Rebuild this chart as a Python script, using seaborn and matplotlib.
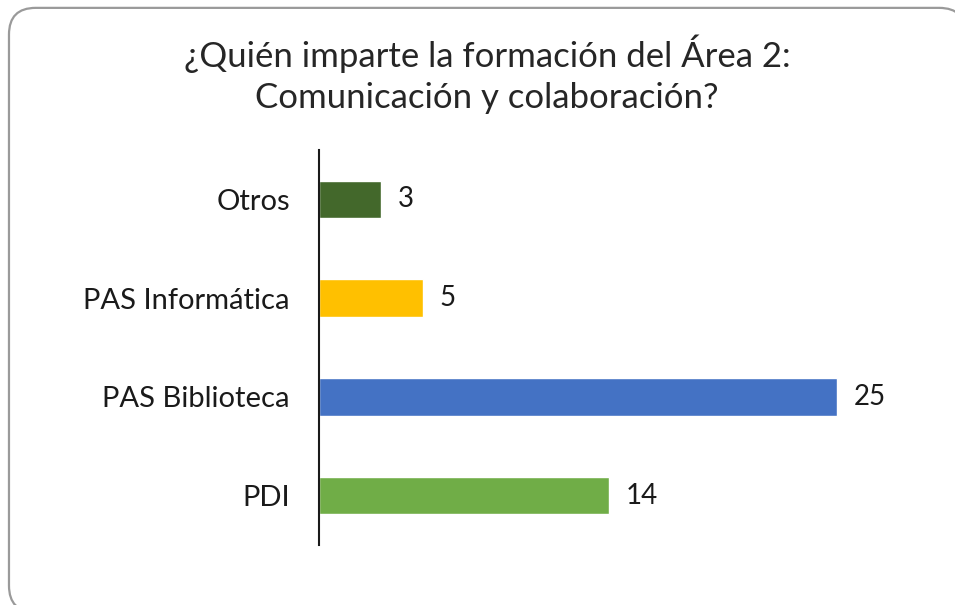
import numpy as np
import pandas as pd
import seaborn as sns
import matplotlib.pyplot as plt
from matplotlib.patches import FancyBboxPatch

# data
categorias = ['Otros', 'PAS Informática', 'PAS Biblioteca', 'PDI']
valores = [3, 5, 25, 14]
colores = ['#43682B', '#FFC000', '#4472C4', '#70AD47']
titulo = '¿Quién imparte la formación del Área 2:\nComunicación y colaboración?'

df = pd.DataFrame({'categoria': categorias, 'valor': valores})

sns.set_theme(style='white')
plt.rcParams['font.family'] = ['Lato', 'DejaVu Sans']

fig = plt.figure(figsize=(9.55, 6.05), dpi=100)

# rounded frame, cut off on the right and at the bottom like the screenshot
marco = FancyBboxPatch((0.0094, -0.012), 1.002, 0.999, boxstyle='round,pad=0,rounding_size=0.028',
                       transform=fig.transFigure, facecolor='white', edgecolor='#9A9A9A',
                       linewidth=1.6, mutation_aspect=955 / 605, zorder=-1)
fig.patches.append(marco)

ax = fig.add_axes([0.334, 0.099, 0.629, 0.653])
ax.set_facecolor('none')

sns.barplot(data=df, x='valor', y='categoria', hue='categoria', palette=colores,
            order=categorias, orient='h', width=0.38, legend=False, ax=ax, saturation=1)

for i, v in enumerate(valores):
    ax.text(v + 0.8, i, str(v), va='center', ha='left', fontsize=20, color='#1a1a1a')

ax.set_xlim(0, 29)
ax.set_ylim(3.5, -0.5)
ax.set_xlabel('')
ax.set_ylabel('')
ax.set_xticks([])
ax.tick_params(axis='y', length=0, pad=21, labelsize=21, labelcolor='#1a1a1a')
for s in ['top', 'right', 'bottom']:
    ax.spines[s].set_visible(False)
ax.spines['left'].set_color('#1a1a1a')
ax.spines['left'].set_linewidth(1.5)

fig.text(0.51, 0.877, titulo, ha='center', va='center', fontsize=25, color='#262626',
         linespacing=1.35)

fig.savefig('out.png', dpi=100)
